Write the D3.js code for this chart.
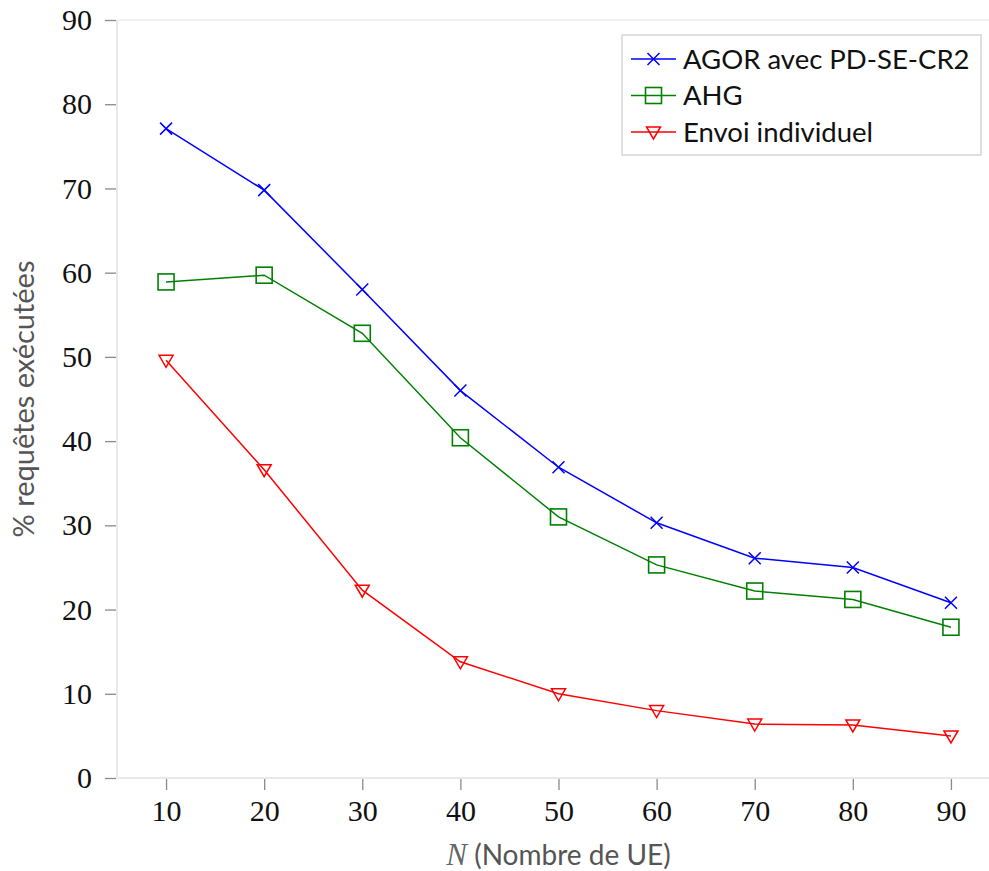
<!DOCTYPE html>
<html>
<head>
<meta charset="utf-8">
<script src="https://cdn.jsdelivr.net/npm/d3@7"></script>
<style>
  body { margin: 0; background: #fff; }
  svg { display: block; }
</style>
</head>
<body>
<div id="chart"></div>
<script>
// data
const nValues = [10, 20, 30, 40, 50, 60, 70, 80, 90];
const agorValues = [77.1, 69.8, 58.0, 46.0, 36.9, 30.3, 26.1, 25.0, 20.8];
const ahgValues = [58.9, 59.7, 52.8, 40.4, 31.0, 25.3, 22.2, 21.2, 17.9];
const indivValues = [49.6, 36.6, 22.3, 13.8, 10.0, 8.0, 6.4, 6.3, 5.0];
const seriesNames = ['AGOR avec PD-SE-CR2', 'AHG', 'Envoi individuel'];
const yTicks = [0, 10, 20, 30, 40, 50, 60, 70, 80, 90];

const W = 989, H = 871;
const m = { left: 117, top: 20, right: 1000, bottom: 778 };

const svg = d3.select('#chart').append('svg')
    .attr('width', W).attr('height', H);

const x = d3.scaleLinear().domain([5, 95]).range([m.left, m.right]);
const y = d3.scaleLinear().domain([0, 90]).range([m.bottom, m.top]);

// frame lines
svg.append('line').attr('x1', m.left).attr('x2', m.right).attr('y1', m.top).attr('y2', m.top)
    .attr('stroke', '#ececec').attr('stroke-width', 1.5);
svg.append('line').attr('x1', m.left).attr('x2', m.left).attr('y1', m.top).attr('y2', m.bottom)
    .attr('stroke', '#e2e2e2').attr('stroke-width', 1.5);
svg.append('line').attr('x1', m.left).attr('x2', m.right).attr('y1', m.bottom).attr('y2', m.bottom)
    .attr('stroke', '#e2e2e2').attr('stroke-width', 1.5);

const tickFont = '"Liberation Serif", "DejaVu Serif", serif';

// y axis
const yAxis = svg.append('g')
    .attr('transform', `translate(${m.left - 1},0)`)
    .call(d3.axisLeft(y).tickValues(yTicks).tickSize(11).tickPadding(13));
yAxis.select('.domain').remove();
yAxis.selectAll('.tick line').attr('stroke', '#8a8a8a').attr('stroke-width', 1.3);
yAxis.selectAll('.tick text')
    .attr('font-family', tickFont).attr('font-size', 30).attr('fill', '#111');

// x axis
const xAxis = svg.append('g')
    .attr('transform', `translate(0,${m.bottom + 1})`)
    .call(d3.axisBottom(x).tickValues(nValues).tickSize(11).tickPadding(10));
xAxis.select('.domain').remove();
xAxis.selectAll('.tick line').attr('stroke', '#8a8a8a').attr('stroke-width', 1.3);
xAxis.selectAll('.tick text')
    .attr('font-family', tickFont).attr('font-size', 30).attr('fill', '#111');

// axis labels
svg.append('text')
    .attr('transform', `translate(34,${(m.top + m.bottom) / 2}) rotate(-90)`)
    .attr('text-anchor', 'middle')
    .attr('font-family', 'Lato, sans-serif').attr('font-size', 29).attr('fill', '#555')
    .text('% requêtes exécutées');

const xl = svg.append('text')
    .attr('x', (m.left + m.right) / 2).attr('y', 865)
    .attr('text-anchor', 'middle')
    .attr('font-family', 'Lato, sans-serif').attr('font-size', 28).attr('fill', '#555');
xl.append('tspan').attr('font-family', tickFont).attr('font-style', 'italic')
    .attr('font-size', 31).attr('fill', '#666').text('N');
xl.append('tspan').text(' (Nombre de UE)');

// markers
function drawMarker(g, kind, color) {
    if (kind === 'cross') {
        g.append('path').attr('d', 'M-6,-6L6,6M-6,6L6,-6')
            .attr('stroke', color).attr('stroke-width', 1.5).attr('fill', 'none');
    } else if (kind === 'square') {
        g.append('rect').attr('x', -8).attr('y', -8).attr('width', 16).attr('height', 16)
            .attr('stroke', color).attr('stroke-width', 1.6).attr('fill', 'none');
    } else {
        g.append('path').attr('d', 'M-7,-5L7,-5L0,7Z')
            .attr('stroke', color).attr('stroke-width', 1.5).attr('fill', 'none');
    }
}

const series = [
    { name: seriesNames[0], values: agorValues, color: '#0000ff', marker: 'cross' },
    { name: seriesNames[1], values: ahgValues, color: '#008000', marker: 'square' },
    { name: seriesNames[2], values: indivValues, color: '#ff0000', marker: 'triangle' }
];

const line = d3.line().x((d, i) => x(nValues[i])).y(d => y(d));

series.forEach(s => {
    svg.append('path').datum(s.values)
        .attr('d', line)
        .attr('fill', 'none').attr('stroke', s.color).attr('stroke-width', 1.5);
    svg.selectAll(null).data(s.values).join('g')
        .attr('transform', (d, i) => `translate(${x(nValues[i])},${y(d)})`)
        .each(function() { drawMarker(d3.select(this), s.marker, s.color); });
});

// legend
const lg = svg.append('g').attr('transform', 'translate(622,35)');
lg.append('rect').attr('width', 359).attr('height', 120)
    .attr('fill', '#fff').attr('stroke', '#cccccc').attr('stroke-width', 1.2);
series.forEach((s, i) => {
    const row = lg.append('g').attr('transform', `translate(0,${24 + i * 36.5})`);
    row.append('line').attr('x1', 9).attr('x2', 54).attr('y1', 0).attr('y2', 0)
        .attr('stroke', s.color).attr('stroke-width', 1.5);
    drawMarker(row.append('g').attr('transform', 'translate(31.5,0)'), s.marker, s.color);
    row.append('text').attr('x', 61).attr('y', 0).attr('dy', '0.36em')
        .attr('font-family', 'Lato, sans-serif').attr('font-size', 27.5).attr('fill', '#111')
        .text(s.name);
});
</script>
</body>
</html>
